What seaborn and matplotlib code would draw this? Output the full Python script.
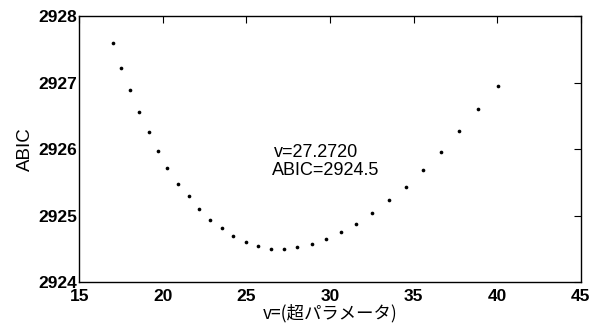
import matplotlib
matplotlib.use("Agg")
import matplotlib.pyplot as plt
import seaborn as sns
import pandas as pd

v_values = [17.01, 17.50, 18.04, 18.58, 19.16, 19.69, 20.27, 20.90, 21.54, 22.17,
            22.83, 23.53, 24.22, 24.96, 25.67, 26.49, 27.22, 28.04, 28.91, 29.77,
            30.66, 31.58, 32.51, 33.50, 34.52, 35.57, 36.63, 37.72, 38.87, 40.04]
abic_values = [2927.60, 2927.22, 2926.88, 2926.56, 2926.25, 2925.97, 2925.71, 2925.48,
               2925.29, 2925.10, 2924.93, 2924.81, 2924.69, 2924.60, 2924.54, 2924.50,
               2924.50, 2924.52, 2924.57, 2924.65, 2924.75, 2924.87, 2925.04, 2925.23,
               2925.43, 2925.68, 2925.96, 2926.27, 2926.60, 2926.95]
x_ticks = [15, 20, 25, 30, 35, 40, 45]
y_ticks = [2924, 2925, 2926, 2927, 2928]
annotation_lines = ["v=27.2720", "ABIC=2924.5"]

sns.set_theme(style="white")
plt.rcParams['font.family'] = ['Liberation Sans', 'Noto Sans CJK JP', 'DejaVu Sans']

df = pd.DataFrame({"v": v_values, "ABIC": abic_values})

fig, ax = plt.subplots(figsize=(6.0, 3.33), dpi=100)
fig.subplots_adjust(left=0.132, right=0.968, top=0.952, bottom=0.153)

sns.scatterplot(data=df, x="v", y="ABIC", ax=ax, color="black", s=7,
                edgecolor="black", linewidth=0, legend=False)

ax.set_xlim(15, 45)
ax.set_ylim(2924, 2928)
ax.set_xticks(x_ticks)
ax.set_yticks(y_ticks)
ax.tick_params(direction="in", length=5, width=0.8, top=True, right=True,
               labelsize=12.5, colors="black")
ax.tick_params(axis="x", pad=5)
ax.tick_params(axis="y", pad=1.5)
for lab in ax.get_xticklabels() + ax.get_yticklabels():
    lab.set_fontweight("bold")
for sp in ax.spines.values():
    sp.set_color("black")
    sp.set_linewidth(1.0)

ax.set_xlabel("v=(超パラメータ)", fontsize=12.5, color="black",
              family=['Noto Sans CJK JP', 'DejaVu Sans'], labelpad=0)
ax.set_ylabel("ABIC", fontsize=13.5, color="black", labelpad=3)

ax.text(26.65, 2925.95, annotation_lines[0], fontsize=13, va="center", ha="left", color="black")
ax.text(26.55, 2925.68, annotation_lines[1], fontsize=13, va="center", ha="left", color="black")

fig.savefig("out.png", dpi=100)
